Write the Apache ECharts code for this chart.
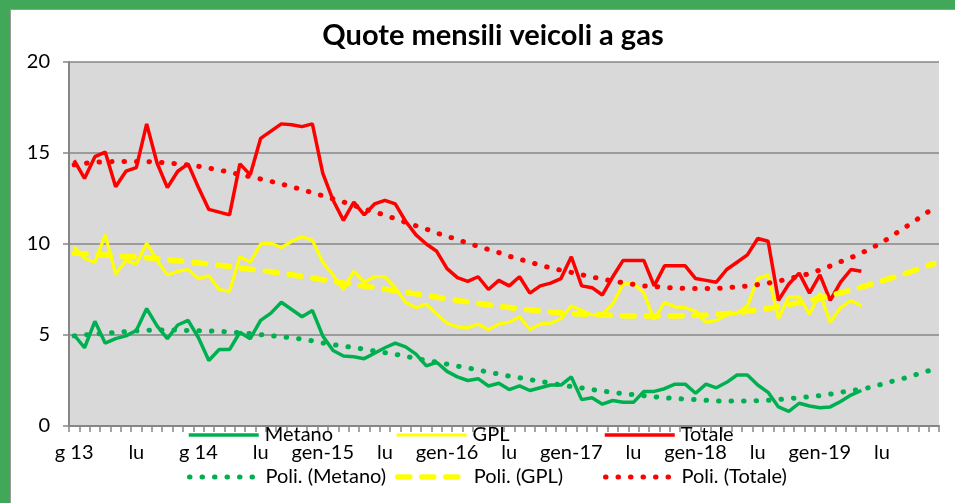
<!DOCTYPE html>
<html>
<head>
<meta charset="utf-8">
<script src="https://cdn.jsdelivr.net/npm/echarts@6/dist/echarts.min.js"></script>
<style>
  html, body { margin: 0; padding: 0; }
  body { width: 955px; height: 503px; background: #41a85a; position: relative; overflow: hidden; }
  #panel { position: absolute; left: 10px; top: 9px; width: 945px; height: 494px; background: #fff;
           border-left: 1px solid #9a9a9a; border-top: 1px solid #9a9a9a; }
  #main { position: absolute; left: 0; top: 0; width: 955px; height: 503px; }
</style>
</head>
<body>
<div id="panel"></div>
<div id="main"></div>
<script>
// etichette asse x (gen / lug), una ogni 6 mesi, 84 mesi gen-13 .. dic-19
var tickLabels = ['g 13', 'lu', 'g 14', 'lu', 'gen-15', 'lu', 'gen-16', 'lu', 'gen-17', 'lu', 'gen-18', 'lu', 'gen-19', 'lu'];
var nMonths = 84;

// quote mensili (%) gen-13 .. mag-19
var metano = [5.0, 4.3, 5.75, 4.55, 4.8, 4.95, 5.25, 6.45, 5.5, 4.8,
  5.55, 5.8, 4.85, 3.6, 4.2, 4.2, 5.15, 4.8, 5.8, 6.2,
  6.8, 6.4, 6.0, 6.35, 4.95, 4.15, 3.85, 3.8, 3.7, 4.0,
  4.3, 4.55, 4.35, 3.95, 3.3, 3.5, 3.0, 2.7, 2.5, 2.6,
  2.2, 2.35, 2.0, 2.2, 1.95, 2.1, 2.25, 2.25, 2.7, 1.45,
  1.55, 1.2, 1.4, 1.3, 1.3, 1.9, 1.9, 2.05, 2.3, 2.3,
  1.8, 2.3, 2.1, 2.4, 2.8, 2.8, 2.25, 1.85, 1.05, 0.8,
  1.25, 1.1, 1.0, 1.05, 1.35, 1.7, 1.95];
var gpl = [9.85, 9.2, 9.0, 10.5, 8.35, 9.1, 8.9, 10.05, 9.1, 8.3,
  8.5, 8.6, 8.1, 8.25, 7.5, 7.4, 9.3, 9.0, 10.0, 10.05,
  9.8, 10.15, 10.4, 10.2, 9.0, 8.3, 7.5, 8.5, 7.9, 8.2,
  8.2, 7.6, 6.8, 6.5, 6.7, 6.15, 5.65, 5.45, 5.4, 5.6,
  5.3, 5.6, 5.7, 6.0, 5.3, 5.6, 5.65, 5.9, 6.6, 6.35,
  6.1, 6.15, 6.7, 7.8, 7.85, 7.3, 5.85, 6.8, 6.55, 6.5,
  6.3, 5.7, 5.8, 6.1, 6.2, 6.6, 8.1, 8.3, 5.9, 7.1,
  7.1, 6.15, 7.3, 5.7, 6.5, 6.9, 6.6];
var totale = [14.6, 13.6, 14.8, 15.05, 13.15, 14.0, 14.2, 16.6, 14.45, 13.1,
  14.0, 14.4, 13.1, 11.9, 11.75, 11.6, 14.4, 13.8, 15.8, 16.2,
  16.6, 16.55, 16.45, 16.6, 13.9, 12.4, 11.3, 12.3, 11.6, 12.2,
  12.4, 12.2, 11.25, 10.5, 10.0, 9.6, 8.65, 8.15, 7.95, 8.2,
  7.5, 8.0, 7.7, 8.2, 7.3, 7.7, 7.85, 8.1, 9.3, 7.7,
  7.6, 7.2, 8.2, 9.1, 9.1, 9.1, 7.7, 8.8, 8.8, 8.8,
  8.1, 8.0, 7.9, 8.6, 9.0, 9.4, 10.3, 10.15, 6.9, 7.8,
  8.4, 7.3, 8.3, 6.9, 7.9, 8.6, 8.5];

// linee di tendenza polinomiali, fino a dic-19
var poliMetano = [4.95, 5.0, 5.05, 5.1, 5.14, 5.19, 5.23, 5.26, 5.27, 5.27,
  5.27, 5.25, 5.23, 5.22, 5.2, 5.17, 5.12, 5.08, 5.02, 4.96,
  4.91, 4.85, 4.77, 4.68, 4.56, 4.47, 4.39, 4.31, 4.22, 4.12,
  4.03, 3.94, 3.83, 3.71, 3.6, 3.51, 3.4, 3.29, 3.19, 3.08,
  2.96, 2.85, 2.74, 2.65, 2.55, 2.45, 2.36, 2.25, 2.17, 2.09,
  2.0, 1.92, 1.85, 1.77, 1.72, 1.66, 1.61, 1.55, 1.51, 1.48,
  1.45, 1.41, 1.38, 1.38, 1.38, 1.38, 1.39, 1.41, 1.45, 1.51,
  1.55, 1.61, 1.67, 1.75, 1.85, 1.94, 2.02, 2.14, 2.3, 2.46,
  2.6, 2.78, 2.95, 3.12];
var poliGpl = [9.5, 9.47, 9.43, 9.4, 9.36, 9.32, 9.29, 9.25, 9.2, 9.14,
  9.08, 9.02, 8.96, 8.9, 8.83, 8.76, 8.68, 8.61, 8.54, 8.47,
  8.39, 8.31, 8.22, 8.13, 8.04, 7.95, 7.86, 7.78, 7.69, 7.6,
  7.52, 7.43, 7.34, 7.26, 7.17, 7.08, 6.99, 6.9, 6.82, 6.74,
  6.66, 6.58, 6.51, 6.44, 6.38, 6.32, 6.27, 6.22, 6.18, 6.15,
  6.12, 6.1, 6.08, 6.06, 6.05, 6.04, 6.04, 6.04, 6.05, 6.06,
  6.08, 6.1, 6.14, 6.18, 6.24, 6.3, 6.38, 6.46, 6.56, 6.66,
  6.78, 6.9, 7.03, 7.17, 7.32, 7.47, 7.63, 7.8, 7.97, 8.15,
  8.33, 8.52, 8.72, 8.92];
var poliTotale = [14.35, 14.43, 14.49, 14.52, 14.53, 14.53, 14.53, 14.53, 14.5, 14.45,
  14.4, 14.34, 14.27, 14.17, 14.06, 13.95, 13.81, 13.7, 13.57, 13.44,
  13.3, 13.14, 12.99, 12.82, 12.65, 12.48, 12.31, 12.12, 11.93, 11.76,
  11.59, 11.39, 11.19, 11.0, 10.82, 10.6, 10.43, 10.24, 10.05, 9.87,
  9.7, 9.53, 9.33, 9.17, 9.0, 8.84, 8.69, 8.56, 8.44, 8.31,
  8.19, 8.07, 7.97, 7.87, 7.78, 7.7, 7.66, 7.62, 7.58, 7.56,
  7.56, 7.56, 7.56, 7.6, 7.64, 7.69, 7.77, 7.85, 7.96, 8.1,
  8.22, 8.38, 8.57, 8.79, 9.03, 9.25, 9.5, 9.78, 10.09, 10.46,
  10.83, 11.2, 11.6, 11.98];

var categories = [];
for (var i = 0; i < nMonths; i++) {
  categories.push(i % 6 === 0 ? tickLabels[i / 6] : '');
}

var FONT = 'Lato';
var GREEN = '#00b050', YELLOW = '#ffff00', RED = '#ff0000';

function legendAt(name, x, y) {
  return {
    data: [name], left: x, top: y, padding: 0,
    itemWidth: 70, itemHeight: 14,
    itemStyle: { opacity: 0 },          // niente simbolo, solo la linea
    lineStyle: { width: 'inherit' },
    textStyle: { fontFamily: FONT, fontSize: 20, color: '#000', padding: [0, 0, 0, 1] }
  };
}

var myChart = echarts.init(document.getElementById('main'));
myChart.setOption({
  animation: false,
  backgroundColor: 'transparent',
  title: {
    text: 'Quote mensili veicoli a gas',
    left: 493, top: 21, textAlign: 'center',
    padding: 0,
    textStyle: { fontFamily: FONT, fontSize: 29, fontWeight: 'bold', color: '#000' }
  },
  legend: [
    legendAt('Metano', 187, 425),
    legendAt('GPL', 395, 425),
    legendAt('Totale', 603, 425),
    legendAt('Poli. (Metano)', 187, 467),
    legendAt('Poli. (GPL)', 395, 467),
    legendAt('Poli. (Totale)', 603, 467)
  ],
  grid: {
    left: 69, right: 16, top: 62, bottom: 77,
    show: true, backgroundColor: '#d9d9d9', borderWidth: 0
  },
  xAxis: {
    type: 'category',
    data: categories,
    boundaryGap: true,
    axisLine: { lineStyle: { color: '#868686', width: 2 } },
    axisTick: { show: true, interval: 0, length: 6, lineStyle: { color: '#868686', width: 1.5 } },
    axisLabel: { interval: 0, margin: 17, fontFamily: FONT, fontSize: 20, color: '#000' },
    splitLine: { show: false }
  },
  yAxis: {
    type: 'value', min: 0, max: 20, interval: 5,
    axisLine: { show: true, lineStyle: { color: '#868686', width: 2 } },
    axisTick: { show: true, length: 6, lineStyle: { color: '#868686', width: 1.5 } },
    axisLabel: { margin: 19, fontFamily: FONT, fontSize: 20, color: '#000' },
    splitLine: { lineStyle: { color: '#868686', width: 1.5 } }
  },
  series: [
    { name: 'Metano', type: 'line', data: metano, symbol: 'none',
      lineStyle: { color: GREEN, width: 3.5 }, itemStyle: { color: GREEN } },
    { name: 'GPL', type: 'line', data: gpl, symbol: 'none',
      lineStyle: { color: YELLOW, width: 3.2 }, itemStyle: { color: YELLOW } },
    { name: 'Totale', type: 'line', data: totale, symbol: 'none',
      lineStyle: { color: RED, width: 3.5 }, itemStyle: { color: RED } },
    { name: 'Poli. (Metano)', type: 'line', data: poliMetano, symbol: 'none',
      lineStyle: { color: GREEN, width: 5, type: [0.5, 12], cap: 'round' }, itemStyle: { color: GREEN } },
    { name: 'Poli. (GPL)', type: 'line', data: poliGpl, symbol: 'none',
      lineStyle: { color: YELLOW, width: 5.5, type: [12, 12], cap: 'round' }, itemStyle: { color: YELLOW } },
    { name: 'Poli. (Totale)', type: 'line', data: poliTotale, symbol: 'none',
      lineStyle: { color: RED, width: 5, type: [0.5, 12], cap: 'round' }, itemStyle: { color: RED } }
  ]
});
</script>
</body>
</html>
